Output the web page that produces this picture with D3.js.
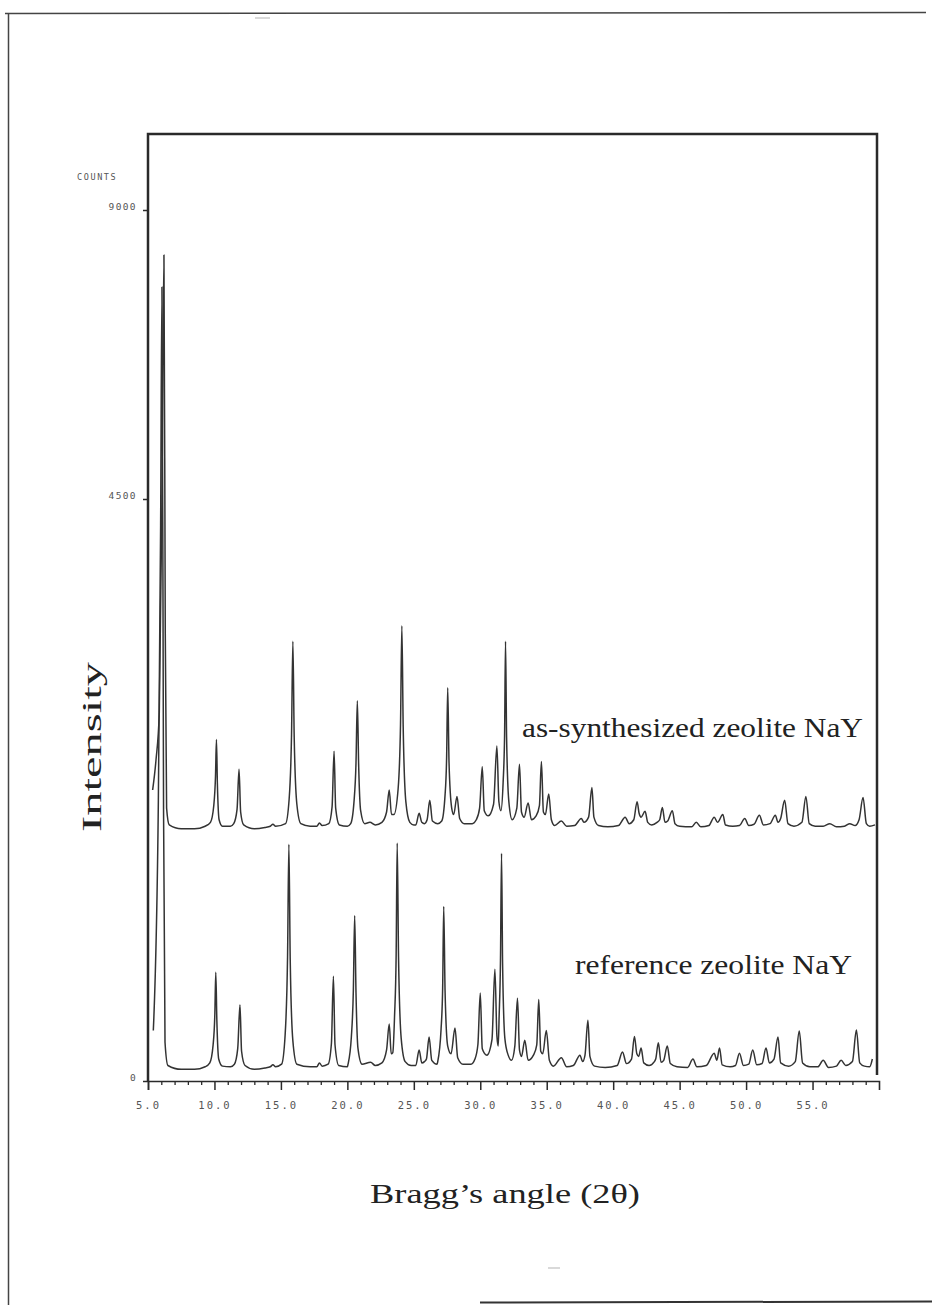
<!DOCTYPE html>
<html><head><meta charset="utf-8">
<script src="https://cdn.jsdelivr.net/npm/d3@7"></script>
<style>body{margin:0;background:#fff}</style>
</head><body>
<svg id="c" width="932" height="1305"></svg>
<script>
// ---- data ----
const xTicks = [5,10,15,20,25,30,35,40,45,50,55];
const xTickLabels = ["5.0","10.0","15.0","20.0","25.0","30.0","35.0","40.0","45.0","50.0","55.0"];
const xMinorTicks = [6,7,8,9,11,12,13,14,16,17,18,19,21,22,23,24,26,27,28,29,31,32,33,34,36,37,38,39,41,42,43,44,46,47,48,49,51,52,53,54,56,57,58,59];
const yTicks = [0,4500,9000];
const yTickLabels = ["0","4500","9000"];
const seriesNames = ["as-synthesized zeolite NaY","reference zeolite NaY"];
const seriesOffsets = [1960, 100]; // counts offset of each stacked pattern

// [2theta, counts above pattern offset]
const asSynthesized = [
[5.35,290],[5.6,520],[5.85,890],[6.05,2600],[6.2,6340],[6.3,1500],[6.4,150],[6.6,20],[7.5,-10],[8.5,-10],[9.3,10],
[9.7,40],[9.95,170],[10.08,400],[10.15,680],[10.22,340],[10.35,60],[10.6,10],
[11.2,10],[11.45,30],[11.7,140],[11.85,450],[11.97,120],[12.2,20],[13.0,-10],[13.8,0],
[14.2,10],[14.4,25],[14.6,10],
[15.35,30],[15.62,220],[15.8,720],[15.9,1440],[16.0,700],[16.2,180],[16.5,30],[17.2,10],
[17.7,10],[17.9,35],[18.1,15],
[18.6,30],[18.85,160],[19.0,590],[19.12,150],[19.4,20],[20.0,10],
[20.25,30],[20.5,200],[20.65,500],[20.75,980],[20.85,480],[21.0,130],[21.3,30],
[21.7,40],[22.1,20],[22.6,40],
[22.95,120],[23.15,290],[23.32,100],[23.5,100],
[23.82,300],[24.0,800],[24.1,1560],[24.2,780],[24.4,200],[24.7,40],[25.0,20],
[25.15,20],[25.4,110],[25.6,40],[25.8,30],
[26.0,60],[26.2,210],[26.4,50],[26.8,30],
[27.1,50],[27.35,250],[27.47,550],[27.55,1080],[27.65,500],[27.85,150],[28.0,100],
[28.25,240],[28.45,70],[28.8,30],[29.4,30],[29.7,60],
[29.95,150],[30.15,470],[30.3,130],[30.6,90],
[31.0,180],[31.25,630],[31.4,200],[31.55,130],
[31.72,350],[31.83,720],[31.9,1440],[31.98,700],[32.15,200],[32.4,60],
[32.75,150],[32.95,490],[33.1,120],[33.3,80],
[33.6,190],[33.85,60],[34.2,90],
[34.45,170],[34.6,510],[34.75,120],[34.9,100],
[35.15,260],[35.35,60],[35.6,15],
[36.1,50],[36.5,10],[37.1,15],
[37.6,70],[37.8,40],
[38.15,80],[38.4,310],[38.55,80],[38.9,15],[39.6,5],[40.4,15],
[40.9,80],[41.2,30],
[41.55,60],[41.8,200],[41.95,110],
[42.1,80],[42.4,125],[42.6,40],[42.9,20],[43.3,40],
[43.5,60],[43.7,155],[43.9,40],[44.1,50],[44.45,130],[44.65,30],[45.0,10],
[45.9,5],[46.25,40],[46.6,5],[47.2,15],
[47.6,80],[47.85,40],[48.25,100],[48.45,20],[49.0,10],[49.5,15],
[49.9,70],[50.2,15],[50.6,25],
[51.0,95],[51.3,20],[51.8,30],
[52.2,95],[52.4,40],[52.6,70],
[52.9,210],[53.15,30],[53.6,10],[54.2,40],
[54.5,240],[54.75,30],[55.2,10],[55.8,10],
[56.3,30],[56.8,5],[57.4,10],
[57.8,30],[58.2,15],[58.5,60],
[58.8,232],[59.05,30],[59.3,10],[59.7,20]
];

const referenceNaY = [
[5.4,290],[5.78,2070],[5.95,4200],[6.05,7700],[6.17,2000],[6.28,200],[6.5,20],[7.5,-10],[8.5,-10],[9.3,10],
[9.65,40],[9.9,180],[10.03,420],[10.1,740],[10.18,370],[10.32,70],[10.6,15],
[11.2,10],[11.5,30],[11.75,150],[11.92,490],[12.04,130],[12.3,20],[13.0,-10],[13.8,0],
[14.2,10],[14.4,25],[14.6,10],
[15.05,30],[15.32,260],[15.5,860],[15.6,1730],[15.7,840],[15.9,210],[16.2,30],[17.2,10],
[17.7,10],[17.9,40],[18.1,15],
[18.55,30],[18.8,190],[18.95,710],[19.07,180],[19.35,20],[20.0,10],
[20.05,30],[20.3,240],[20.45,600],[20.55,1180],[20.65,580],[20.8,150],[21.1,30],
[21.75,45],[22.1,20],[22.6,40],
[22.95,140],[23.15,340],[23.3,110],[23.42,120],
[23.55,400],[23.67,870],[23.75,1740],[23.85,860],[24.05,230],[24.35,50],[24.8,20],
[25.15,20],[25.4,140],[25.6,40],[25.8,50],
[25.95,70],[26.15,240],[26.35,60],[26.75,30],
[26.8,50],[27.05,300],[27.17,620],[27.25,1250],[27.35,600],[27.55,170],[27.8,110],
[28.1,310],[28.3,80],[28.7,30],[29.3,30],[29.6,70],
[29.82,180],[30.0,580],[30.15,150],[30.5,100],
[30.88,220],[31.1,765],[31.25,250],[31.35,170],
[31.42,400],[31.52,830],[31.6,1660],[31.68,800],[31.85,230],[32.1,100],[32.35,60],
[32.6,170],[32.8,540],[32.95,140],[33.1,90],
[33.35,215],[33.6,60],[34.0,100],
[34.25,180],[34.4,530],[34.55,130],[34.7,110],
[34.97,290],[35.2,60],[35.5,15],
[36.1,80],[36.5,10],[37.0,20],
[37.5,100],[37.7,50],
[37.88,100],[38.1,370],[38.25,90],[38.6,15],[39.4,5],[40.3,20],
[40.7,125],[41.0,35],
[41.38,70],[41.6,245],[41.78,110],
[41.92,90],[42.1,155],[42.3,40],[42.7,20],[43.1,50],
[43.2,70],[43.4,195],[43.6,45],[43.8,60],[44.07,170],[44.3,35],[44.8,10],
[45.6,5],[46.0,70],[46.3,10],[47.0,20],
[47.6,115],[47.8,60],[48.0,155],[48.2,25],[48.8,10],[49.2,20],
[49.5,115],[49.8,20],[50.2,30],
[50.5,140],[50.8,25],[51.2,35],
[51.5,155],[51.75,40],[52.1,70],
[52.4,240],[52.6,40],[53.2,15],[53.7,50],
[54.0,286],[54.25,40],[54.8,10],[55.4,10],
[55.8,60],[56.2,5],[56.8,15],
[57.15,60],[57.5,20],[58.0,50],
[58.3,294],[58.55,40],[58.9,15],[59.3,10],[59.5,70]
];

// ---- drawing ----
const svg = d3.select("#c");
svg.append("rect").attr("width",932).attr("height",1305).attr("fill","#fff");

// page border (scan)
const ink = "#2a2a2a";
svg.append("path").attr("d","M5,13.5 L926,12.5").attr("stroke","#444").attr("stroke-width",1.5).attr("fill","none");
svg.append("path").attr("d","M8.5,13 L8.5,1305").attr("stroke","#444").attr("stroke-width",1.5).attr("fill","none");
svg.append("path").attr("d","M480,1302.5 L932,1301.5").attr("stroke","#333").attr("stroke-width",2).attr("fill","none");
svg.append("path").attr("d","M255,18 L270,18").attr("stroke","#ccc").attr("stroke-width",1.5);
svg.append("path").attr("d","M548,1268 L560,1268").attr("stroke","#ccc").attr("stroke-width",1.5);

const x = d3.scaleLinear().domain([5,60]).range([148,879]);
const y = d3.scaleLinear().domain([0,4500,9000]).range([1081,499,210]);

// plot frame
svg.append("path").attr("d","M148,1081 L148,134 L877,134 L877,1075")
  .attr("stroke",ink).attr("stroke-width",2.5).attr("fill","none");

// x axis
const gx = svg.append("g").attr("transform","translate(0,1081)")
  .call(d3.axisBottom(x).tickValues(xTicks).tickFormat((d,i)=>xTickLabels[i]).tickSize(9).tickPadding(12));
gx.select(".domain").attr("stroke",ink).attr("stroke-width",1.6);
gx.selectAll(".tick line").attr("stroke",ink).attr("stroke-width",1.5);
gx.selectAll(".tick text").attr("font-family","DejaVu Sans Mono").attr("font-size",10.5)
  .attr("letter-spacing","2px").attr("fill","#555");
const gxm = svg.append("g").attr("transform","translate(0,1081)")
  .call(d3.axisBottom(x).tickValues(xMinorTicks).tickFormat("").tickSize(4));
gxm.select(".domain").remove();
gxm.selectAll(".tick line").attr("stroke",ink).attr("stroke-width",1.3);

// y axis
const gy = svg.append("g").attr("transform","translate(148,0)")
  .call(d3.axisLeft(y).tickValues(yTicks).tickFormat((d,i)=>yTickLabels[i]).tickSize(5).tickPadding(6));
gy.select(".domain").remove();
gy.selectAll(".tick line").attr("stroke",ink).attr("stroke-width",1.5);
gy.selectAll(".tick text").attr("font-family","DejaVu Sans Mono").attr("font-size",9.5)
  .attr("letter-spacing","1.4px").attr("fill","#555").attr("dy","-0.05em");

svg.append("text").attr("x",77).attr("y",180).text("COUNTS")
  .attr("font-family","DejaVu Sans Mono").attr("font-size",8.5).attr("letter-spacing","1.6px").attr("fill","#555");

// patterns
const patterns = [asSynthesized, referenceNaY];
patterns.forEach((pts,i)=>{
  const line = d3.line().curve(d3.curveMonotoneX).x(d=>x(d[0])).y(d=>y(seriesOffsets[i]+d[1]));
  svg.append("path").attr("d",line(pts)).attr("fill","none")
    .attr("stroke","#333").attr("stroke-width",1.5).attr("stroke-linejoin","round");
});

// labels
const serif = "Liberation Serif, Times New Roman, serif";
svg.append("text").attr("x",522).attr("y",737).text(seriesNames[0])
  .attr("font-family",serif).attr("font-size",28).attr("fill","#222")
  .attr("textLength",341).attr("lengthAdjust","spacingAndGlyphs");
svg.append("text").attr("x",575).attr("y",974).text(seriesNames[1])
  .attr("font-family",serif).attr("font-size",28).attr("fill","#222")
  .attr("textLength",277).attr("lengthAdjust","spacingAndGlyphs");
svg.append("text").attr("transform","translate(101,747) rotate(-90)").attr("text-anchor","middle")
  .text("Intensity").attr("font-family",serif).attr("font-size",27).attr("fill","#222")
  .attr("textLength",170).attr("lengthAdjust","spacingAndGlyphs");
svg.append("text").attr("x",370).attr("y",1203).text("Bragg\u2019s angle (2\u03B8)")
  .attr("font-family",serif).attr("font-size",28).attr("fill","#222")
  .attr("textLength",270).attr("lengthAdjust","spacingAndGlyphs");
</script>
</body></html>
